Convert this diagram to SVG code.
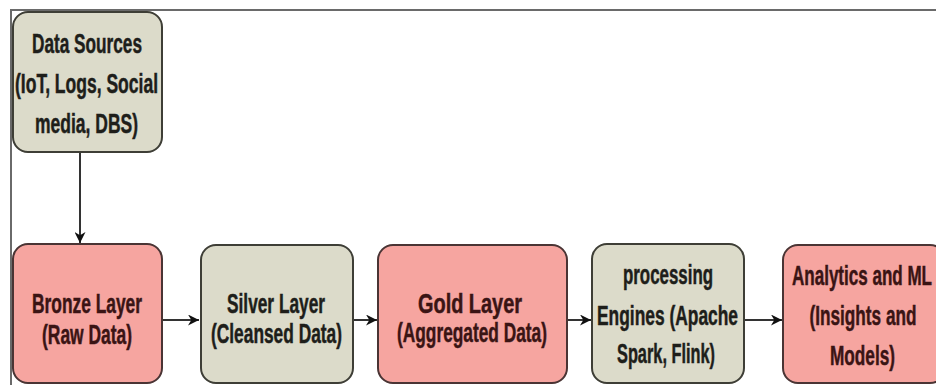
<svg xmlns="http://www.w3.org/2000/svg" width="936" height="385" viewBox="0 0 936 385">
<style>
.frame{stroke:#6a6a6a;stroke-width:2;fill:none}
.pink{fill:#f6a5a0;stroke:#4a3434;stroke-width:2}
.gray{fill:#dcdbca;stroke:#3e3e36;stroke-width:2}
text{font-family:"Liberation Sans",Arial,sans-serif;font-weight:bold;font-size:27px;text-anchor:middle;stroke-width:0.5}
.tp{fill:#3a1414;stroke:#3a1414}
.tg{fill:#1e1e1a;stroke:#1e1e1a}
.conn{stroke:#333;stroke-width:2;fill:none}
</style>
<defs>
<marker id="arr" viewBox="0 0 10 10" refX="10" refY="5" markerWidth="11" markerHeight="11" markerUnits="userSpaceOnUse" orient="auto">
<path d="M0,0 L10,5 L0,10 L3,5 Z" fill="#111"/>
</marker>
</defs>
<rect width="936" height="385" fill="#ffffff"/>
<path class="frame" d="M11,385 L11,10 L936,10"/>
<g id="connectors">
<line class="conn" x1="80" y1="152" x2="80" y2="243" marker-end="url(#arr)"/>
<line class="conn" x1="163" y1="320" x2="199" y2="320" marker-end="url(#arr)"/>
<line class="conn" x1="353" y1="320" x2="377" y2="320" marker-end="url(#arr)"/>
<line class="conn" x1="567" y1="320" x2="591" y2="320" marker-end="url(#arr)"/>
<line class="conn" x1="745" y1="320" x2="782" y2="320" marker-end="url(#arr)"/>
</g>
<g id="data-sources">
<rect class="gray" x="13" y="12" width="149" height="140" rx="15"/>
<text class="tg" x="87" y="53" textLength="110" lengthAdjust="spacingAndGlyphs">Data Sources</text>
<text class="tg" x="86.5" y="93" textLength="143" lengthAdjust="spacingAndGlyphs">(IoT, Logs, Social</text>
<text class="tg" x="86.5" y="133" textLength="103" lengthAdjust="spacingAndGlyphs">media, DBS)</text>
</g>
<g id="bronze">
<rect class="pink" x="13" y="244" width="149" height="139" rx="15"/>
<text class="tp" x="87" y="313" textLength="110" lengthAdjust="spacingAndGlyphs">Bronze Layer</text>
<text class="tp" x="87" y="344" textLength="90" lengthAdjust="spacingAndGlyphs">(Raw Data)</text>
</g>
<g id="silver">
<rect class="gray" x="201" y="245" width="152" height="138" rx="15"/>
<text class="tg" x="276" y="313" textLength="98" lengthAdjust="spacingAndGlyphs">Silver Layer</text>
<text class="tg" x="276.5" y="343" textLength="131" lengthAdjust="spacingAndGlyphs">(Cleansed Data)</text>
</g>
<g id="gold">
<rect class="pink" x="378" y="245" width="189" height="138" rx="15"/>
<text class="tp" x="470" y="313" textLength="104" lengthAdjust="spacingAndGlyphs">Gold Layer</text>
<text class="tp" x="472" y="342" textLength="150" lengthAdjust="spacingAndGlyphs">(Aggregated Data)</text>
</g>
<g id="processing">
<rect class="gray" x="592" y="244" width="152" height="139" rx="15"/>
<text class="tg" x="668" y="284" textLength="90" lengthAdjust="spacingAndGlyphs">processing</text>
<text class="tg" x="667.5" y="325" textLength="141" lengthAdjust="spacingAndGlyphs">Engines (Apache</text>
<text class="tg" x="666" y="363" textLength="98" lengthAdjust="spacingAndGlyphs">Spark, Flink)</text>
</g>
<g id="analytics">
<rect class="pink" x="783" y="245" width="162" height="138" rx="15"/>
<text class="tp" x="862" y="285" textLength="140" lengthAdjust="spacingAndGlyphs">Analytics and ML</text>
<text class="tp" x="863" y="325" textLength="107" lengthAdjust="spacingAndGlyphs">(Insights and</text>
<text class="tp" x="862.5" y="365" textLength="65" lengthAdjust="spacingAndGlyphs">Models)</text>
</g>
</svg>
